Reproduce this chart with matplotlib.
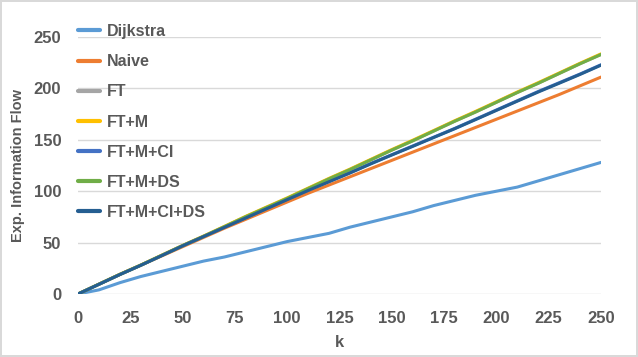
import matplotlib
matplotlib.use("Agg")
import matplotlib.pyplot as plt

# --- data (value at every 10 of k) ---
k = list(range(0, 251, 10))

dijkstra = [0, 4, 11, 17, 22, 27, 32, 36, 41, 46, 51, 55, 59, 65, 70,
            75, 80, 86, 91, 96, 100, 104, 110, 116, 122, 128]
naive = [0, 9.5, 19, 28, 37, 46, 55, 64, 72.5, 81, 89.5, 98, 106, 114, 122,
         130, 138, 146, 154, 162, 170, 178, 186, 194, 202.5, 211]
ft = [0, 9.5, 19, 28, 37.5, 47, 56, 65.5, 75, 84, 93, 102.5, 112, 121, 130.5,
      140, 149, 158.5, 168, 177, 186.5, 196, 205, 214.5, 224, 233]
ft_m = [0, 9.6, 19.2, 28.2, 37.8, 47.3, 56.4, 65.8, 75.4, 84.5, 93.5, 103, 112.5,
        121.5, 131, 140.5, 149.6, 159, 168.5, 177.6, 187, 196.5, 205.6, 215, 224.5, 233.6]
ft_m_ci = [0, 9.5, 19, 28, 37.5, 47, 56, 65, 74, 83, 92, 101, 109.5, 118, 127,
           135.5, 144, 152.5, 161, 170, 179, 188, 197, 205.5, 214, 223]
ft_m_ds = [0, 9.5, 19, 28, 37.5, 47, 56, 65.5, 75, 84, 93, 102.5, 112, 121, 130.5,
           140, 149, 158.5, 168, 177, 186.5, 196, 205, 214.5, 224, 233]
ft_m_ci_ds = [0, 9.4, 18.9, 27.9, 37.3, 46.8, 55.8, 64.8, 73.8, 82.8, 91.8, 100.7,
              109.2, 117.7, 126.6, 135.2, 143.6, 152.2, 160.7, 169.6, 178.6, 187.6,
              196.5, 205, 213.6, 222.6]

series = [
    ("Dijkstra", dijkstra, "#5B9BD5"),
    ("Naive", naive, "#ED7D31"),
    ("FT", ft, "#A5A5A5"),
    ("FT+M", ft_m, "#FFC000"),
    ("FT+M+CI", ft_m_ci, "#4472C4"),
    ("FT+M+DS", ft_m_ds, "#70AD47"),
    ("FT+M+CI+DS", ft_m_ci_ds, "#255E91"),
]

plt.rcParams["font.family"] = ["Liberation Sans", "DejaVu Sans"]
plt.rcParams["font.weight"] = "bold"
text_col = "#595959"

fig = plt.figure(figsize=(6.38, 3.57), dpi=100)
fig.patch.set_edgecolor("#D9D9D9")
fig.patch.set_linewidth(1.5)
ax = fig.add_axes([78 / 638, 63 / 357, 523 / 638, 257 / 357])

for name, vals, col in series:
    ax.plot(k, vals, color=col, lw=2.2, label=name, solid_capstyle="round")

ax.set_xlim(0, 250)
ax.set_ylim(0, 250)
ax.set_xticks(range(0, 251, 25))
ax.set_yticks(range(0, 251, 50))
ax.grid(axis="y", color="#D9D9D9", lw=1)
ax.set_axisbelow(True)
for s in ax.spines.values():
    s.set_visible(False)
ax.tick_params(length=0, labelsize=12, colors=text_col)
ax.tick_params(axis="y", pad=12)
ax.tick_params(axis="x", pad=12)

ax.set_xlabel("k", fontsize=12, color=text_col, fontweight="bold", labelpad=7)
ax.set_ylabel("Exp. Information Flow", fontsize=10.5, color=text_col,
              fontweight="bold", labelpad=6)

leg = ax.legend(loc="upper left", bbox_to_anchor=(78 / 638, 1 - 24 / 357),
                bbox_transform=fig.transFigure, frameon=False, fontsize=11.5,
                labelspacing=0.95, handlelength=1.4, handletextpad=0.4,
                borderpad=0, borderaxespad=0)
for t in leg.get_texts():
    t.set_color(text_col)
for h in leg.legend_handles:
    h.set_linewidth(3)

fig.savefig("out.png", dpi=100)
